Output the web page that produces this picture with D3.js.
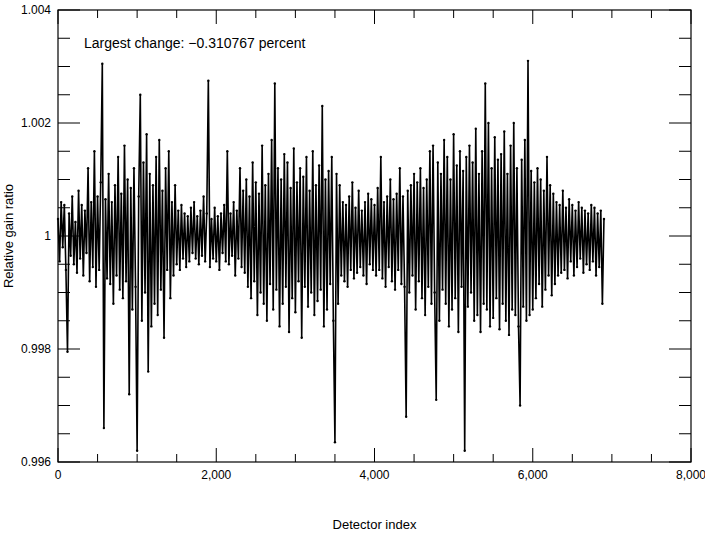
<!DOCTYPE html>
<html><head><meta charset="utf-8">
<script src="https://cdn.jsdelivr.net/npm/d3@7"></script>
<style>body{margin:0;background:#fff}svg{display:block}text{font-family:"Liberation Sans Narrow","Arial Narrow","Liberation Sans",sans-serif;}</style>
</head><body><svg id="c" width="705" height="534"></svg>
<script>
// deviations from 1, in units of 1e-5, one value every 20 detectors
const step = 20;
const deviations = [
30,-45,60,-20,55,-60,-205,40,-35,70,-50,25,-65,80,-40,55,-70,45,-30,120,
-80,60,-55,150,-90,70,-60,95,305,-340,65,-75,110,-85,60,-120,90,-70,140,-95,
75,-110,160,-80,100,-280,85,-130,120,-90,-380,70,250,-150,130,-100,180,-240,110,-160,
90,-120,140,-140,170,-95,80,-180,120,-60,150,-110,60,-70,90,-50,45,-60,55,-40,
40,-55,35,-45,50,-30,60,-40,35,-50,45,-35,70,-45,40,275,-55,30,-40,50,
-45,35,-60,40,-30,55,-45,150,-50,40,-35,60,-70,45,-40,120,-55,80,-65,100,
-90,70,-110,130,-80,95,-140,75,-100,160,-120,90,-150,110,-85,170,-130,270,-95,120,
-160,100,-120,145,-90,130,-170,85,-110,155,-135,95,-80,120,-180,105,-90,140,-125,80,
-100,150,-140,90,-115,125,-95,230,-160,100,-130,115,-85,140,-150,-365,110,-120,90,-70,
60,-80,55,-90,70,-60,95,-75,50,-65,80,-55,45,-70,60,-85,75,-50,65,-60,
55,-70,85,-60,140,-75,60,-90,70,-55,100,-80,65,-95,75,-60,120,-85,70,-90,
-320,80,-100,90,-70,110,-130,95,-80,120,-110,85,-140,100,-90,150,-120,160,-100,-290,
130,-150,110,-95,170,-120,140,-160,100,-130,180,-110,125,-170,150,-90,115,-380,140,-125,
160,-100,130,-150,190,-140,110,-170,150,-120,270,-130,200,-160,120,-145,175,-110,135,-165,
145,-120,185,-150,110,-175,160,-130,200,-140,120,-160,-300,135,-125,170,-150,310,-140,115,
-130,95,-110,120,-85,100,-125,80,-95,140,-70,90,-105,75,-85,60,-70,55,-65,80,
-60,50,-75,65,-45,55,-70,45,-55,60,-40,50,-65,45,-50,40,-60,55,-45,50,-70,40,-55,45,-120,30];
const xTicks = [0,2000,4000,6000,8000];
const yTicks = [0.996,0.998,1,1.002,1.004];
const annotation = "Largest change: \u22120.310767 percent";

const data = deviations.map((d,i)=>({x:i*step, y:1+d*1e-5}));
const L=58,R=691,T=10,B=462;
const svg=d3.select("#c");
const x=d3.scaleLinear().domain([0,8000]).range([L,R]);
const y=d3.scaleLinear().domain([0.996,1.004]).range([B,T]);
const g=svg.append("g");
const xMinor=d3.range(0,8001,500), yMinor=d3.range(0,17).map(i=>0.996+i*0.0005);
xMinor.forEach(v=>{const big=v%2000===0, len=big?14:8;
  g.append("line").attr("x1",x(v)).attr("x2",x(v)).attr("y1",B).attr("y2",B-len).attr("stroke","#000");
  g.append("line").attr("x1",x(v)).attr("x2",x(v)).attr("y1",T).attr("y2",T+len).attr("stroke","#000");});
yMinor.forEach((v,i)=>{const big=i%4===0, len=big?22:12;
  g.append("line").attr("y1",y(v)).attr("y2",y(v)).attr("x1",L).attr("x2",L+len).attr("stroke","#000");
  g.append("line").attr("y1",y(v)).attr("y2",y(v)).attr("x1",R).attr("x2",R-len).attr("stroke","#000");});
g.append("rect").attr("x",L).attr("y",T).attr("width",R-L).attr("height",B-T).attr("fill","none").attr("stroke","#000").attr("stroke-width",1.2);
const fx=d3.format(",");
xTicks.forEach(v=>g.append("text").attr("x",x(v)).attr("y",B+17).attr("text-anchor","middle").attr("font-size",12).text(fx(v)));
yTicks.forEach(v=>g.append("text").attr("x",L-7).attr("y",y(v)+4).attr("text-anchor","end").attr("font-size",12).text(v===1?"1":v.toFixed(3)));
svg.append("text").attr("x",(L+R)/2).attr("y",529).attr("text-anchor","middle").attr("font-size",13).text("Detector index");
svg.append("text").attr("transform",`translate(13,${(T+B)/2}) rotate(-90)`).attr("text-anchor","middle").attr("font-size",13).text("Relative gain ratio");
svg.append("text").attr("x",84).attr("y",48).attr("font-size",14).text(annotation);
g.append("path").datum(data).attr("fill","none").attr("stroke","#000").attr("stroke-width",1.6)
 .attr("d",d3.line().x(d=>x(d.x)).y(d=>y(d.y)));
g.selectAll("circle").data(data).join("circle").attr("cx",d=>x(d.x)).attr("cy",d=>y(d.y)).attr("r",1.2).attr("fill","#000");
</script></body></html>
